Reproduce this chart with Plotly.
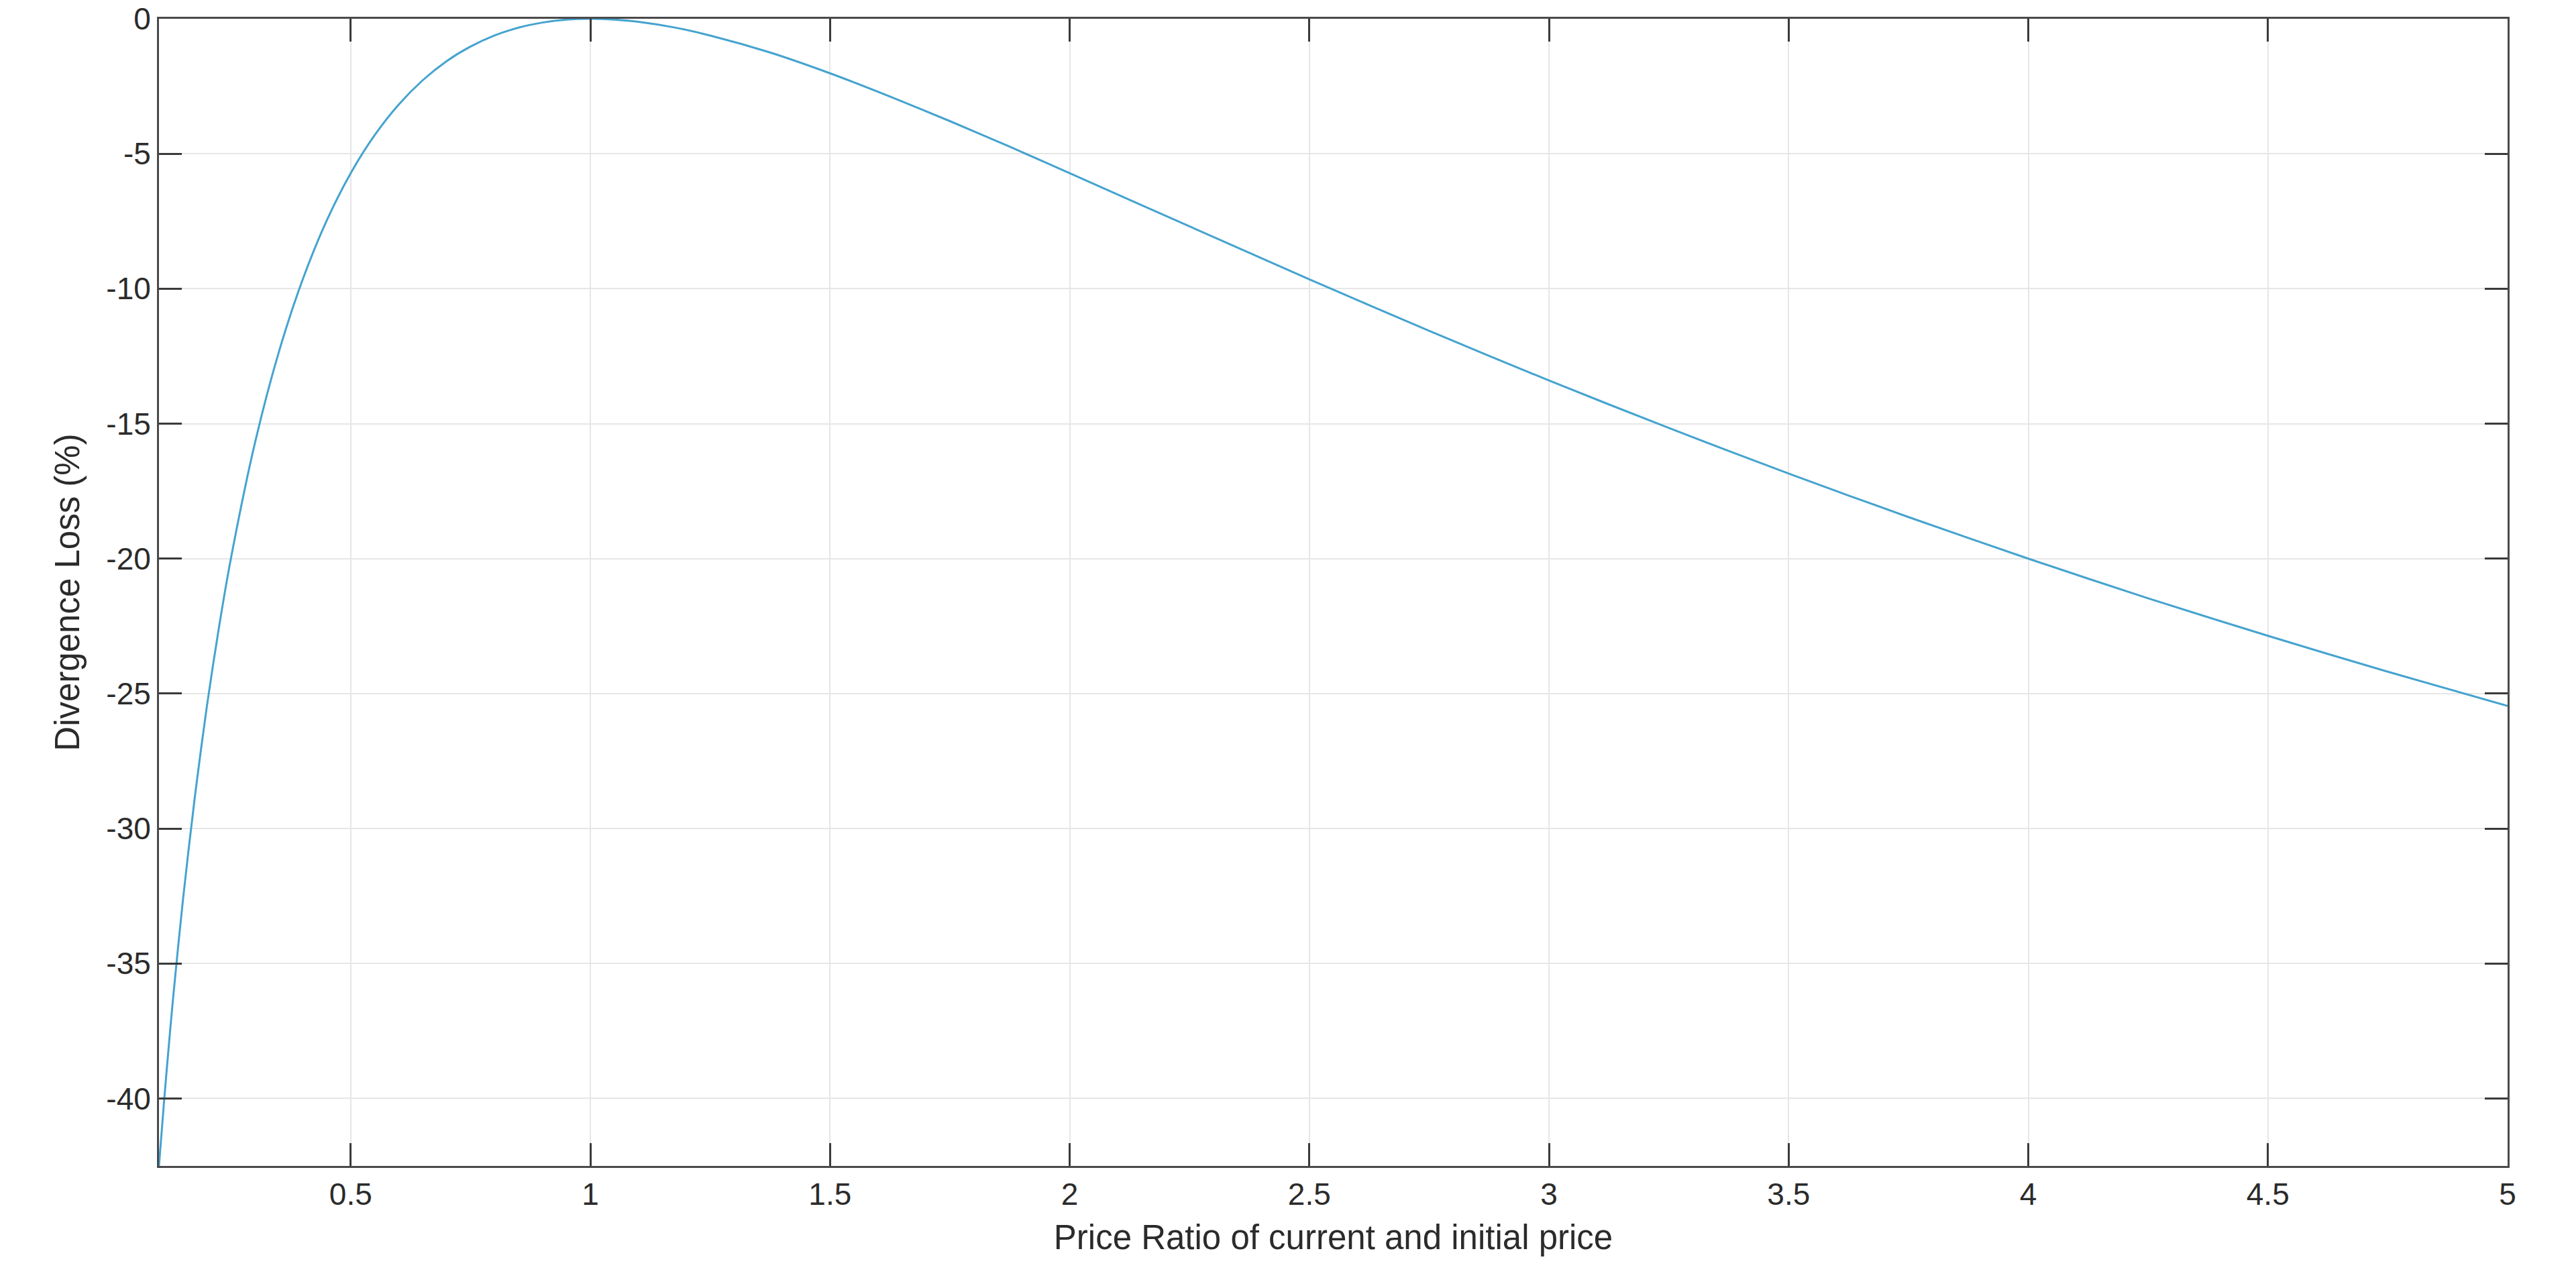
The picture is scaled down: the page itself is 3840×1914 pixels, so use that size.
import plotly.graph_objects as go

# Price ratio (current / initial)
price_ratio = [0.10, 0.11, 0.12, 0.13, 0.15, 0.175, 0.20, 0.225, 0.25, 0.30, 0.35, 0.40,
               0.45, 0.50, 0.55, 0.60, 0.65, 0.70, 0.75, 0.80, 0.85, 0.90, 0.95, 1.00, 1.05,
               1.10, 1.175, 1.25, 1.375, 1.50, 1.625, 1.75, 1.875, 2.00, 2.25, 2.50, 2.75,
               3.00, 3.25, 3.50, 3.75, 4.00, 4.25, 4.50, 4.75, 5.00]
# Divergence loss (%)
divergence_loss = [-42.50, -40.24, -38.14, -36.18, -32.64, -28.80, -25.46, -22.56, -20.00,
                   -15.73, -12.35, -9.65, -7.47, -5.72, -4.31, -3.18, -2.28, -1.57, -1.03,
                   -0.62, -0.33, -0.14, -0.03, 0.00, -0.03, -0.11, -0.32, -0.62, -1.25,
                   -2.02, -2.88, -3.79, -4.74, -5.72, -7.69, -9.65, -11.56, -13.40, -15.16,
                   -16.85, -18.46, -20.00, -21.47, -22.86, -24.19, -25.46]

x_ticks = [0.5, 1, 1.5, 2, 2.5, 3, 3.5, 4, 4.5, 5]
x_tick_labels = ["0.5", "1", "1.5", "2", "2.5", "3", "3.5", "4", "4.5", "5"]
y_ticks = [-40, -35, -30, -25, -20, -15, -10, -5, 0]
y_tick_labels = ["-40", "-35", "-30", "-25", "-20", "-15", "-10", "-5", "0"]

x_title = "Price Ratio of current and initial price"
y_title = "Divergence Loss (%)"

FONT = "Liberation Sans, Arial, sans-serif"
TXT = "#2b2b2b"

fig = go.Figure()
fig.add_trace(go.Scatter(
    x=price_ratio, y=divergence_loss, mode="lines",
    line=dict(color="#45a3cf", width=3, shape="spline", smoothing=0.8),
    showlegend=False, hoverinfo="skip", cliponaxis=False,
))

axis_common = dict(
    showline=True, linecolor="#4a4a4a", linewidth=3, mirror="ticks",
    ticks="inside", ticklen=34, tickwidth=3, tickcolor="#3a3a3a",
    showgrid=True, gridcolor="#e6e6e6", gridwidth=2, zeroline=False,
    tickfont=dict(family=FONT, size=46, color=TXT),
    ticklabeloverflow="allow",
)

fig.update_xaxes(
    range=[0.1, 5], tickvals=x_ticks, ticktext=x_tick_labels,
    title=dict(text=x_title, font=dict(family=FONT, size=51, color=TXT), standoff=22),
    **axis_common,
)
fig.update_yaxes(
    range=[-42.5, 0], tickvals=y_ticks, ticktext=y_tick_labels,
    title=dict(text=y_title, font=dict(family=FONT, size=51, color=TXT), standoff=24),
    **axis_common,
)

fig.update_layout(
    width=3840, height=1914,
    margin=dict(l=237, r=102, t=28, b=176, autoexpand=False),
    paper_bgcolor="white", plot_bgcolor="white",
    font=dict(family=FONT, color=TXT),
)

fig.write_html(
    "out.html",
    config={"displayModeBar": False},
    post_script="document.body.style.margin='0';document.body.style.overflow='hidden';",
)
